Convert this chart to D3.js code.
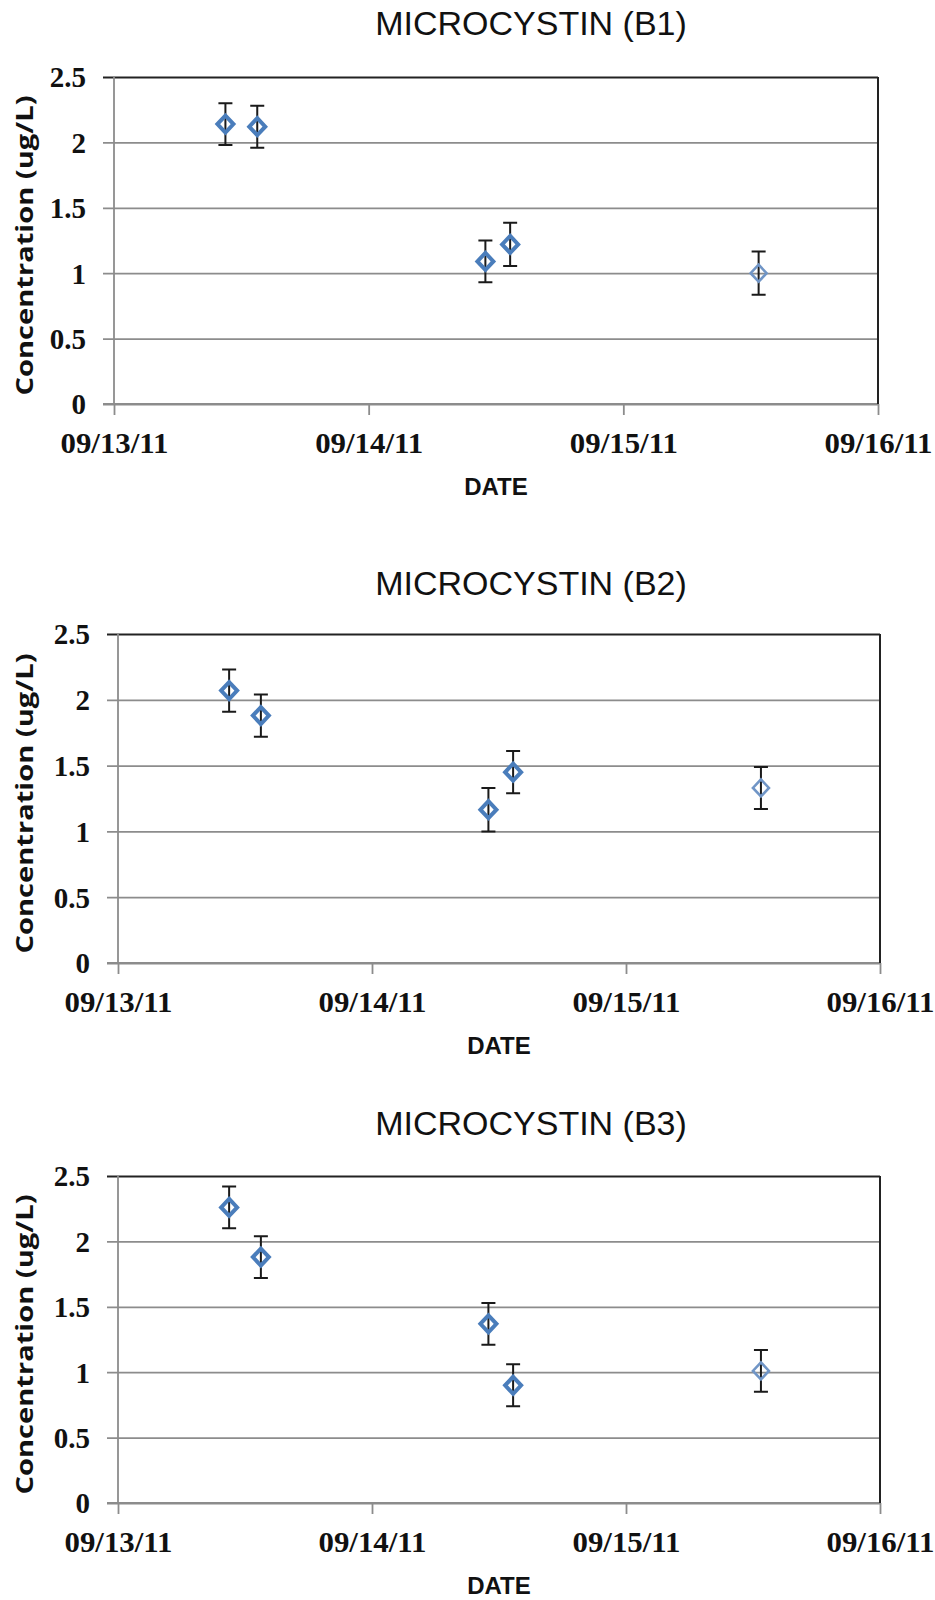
<!DOCTYPE html>
<html>
<head>
<meta charset="utf-8">
<script src="https://cdn.jsdelivr.net/npm/d3@7/dist/d3.min.js"></script>
<style>
  html, body { margin: 0; padding: 0; background: #fff; }
  svg { display: block; }
</style>
</head>
<body>
<svg id="chart" width="935" height="1600"></svg>
<script>
// ---------------- DATA ----------------
const sampleTimes = ["2011-09-13T10:30", "2011-09-13T13:30", "2011-09-14T11:00", "2011-09-14T13:20", "2011-09-15T12:45"];
const titles = ["MICROCYSTIN (B1)", "MICROCYSTIN (B2)", "MICROCYSTIN (B3)"];
const valuesB1 = [2.14, 2.12, 1.09, 1.22, 1.00];
const errorsB1 = [0.16, 0.16, 0.16, 0.165, 0.165];
const valuesB2 = [2.07, 1.88, 1.165, 1.45, 1.33];
const errorsB2 = [0.16, 0.16, 0.165, 0.16, 0.16];
const valuesB3 = [2.26, 1.88, 1.37, 0.90, 1.01];
const errorsB3 = [0.16, 0.16, 0.16, 0.16, 0.16];
const yTicks = [0, 0.5, 1, 1.5, 2, 2.5];
const xTickLabels = ["09/13/11", "09/14/11", "09/15/11", "09/16/11"];
const xAxisTitle = "DATE";
const yAxisTitle = "Concentration (ug/L)";

// ---------------- LAYOUT ----------------
const panels = [
  { left: 114, right: 878, top: 77,   bottom: 404,  titleY: 35 },
  { left: 118, right: 880, top: 634,  bottom: 963,  titleY: 595 },
  { left: 118, right: 880, top: 1176, bottom: 1503, titleY: 1135 }
];
const seriesValues = [valuesB1, valuesB2, valuesB3];
const seriesErrors = [errorsB1, errorsB2, errorsB3];

const parseT = d3.timeParse("%Y-%m-%dT%H:%M");
const parseTick = d3.timeParse("%m/%d/%y");
const dates = sampleTimes.map(parseT);
const tickDates = xTickLabels.map(parseTick);

const svg = d3.select("#chart");
const gridColor = "#8c8c8c";
const markerColor = "#4a7dbb";
const lightMarkerColor = "#7095c6";

panels.forEach((p, i) => {
  const x = d3.scaleTime().domain([tickDates[0], tickDates[tickDates.length - 1]]).range([p.left, p.right]);
  const y = d3.scaleLinear().domain([0, 2.5]).range([p.bottom, p.top]);
  const w = p.right - p.left;
  const g = svg.append("g");

  // Title
  g.append("text")
    .attr("x", 531).attr("y", p.titleY)
    .attr("text-anchor", "middle")
    .attr("font-family", "Liberation Sans, Arial, sans-serif")
    .attr("font-size", 34)
    .attr("fill", "#111")
    .text(titles[i]);

  // Y axis with gridlines
  const yAxis = d3.axisLeft(y)
    .tickValues(yTicks)
    .tickSizeInner(-w)
    .tickSizeOuter(0)
    .tickPadding(28)
    .tickFormat(d3.format("~g"));
  const yg = g.append("g").attr("transform", `translate(${p.left},0)`).call(yAxis);
  yg.select(".domain").remove();
  yg.selectAll(".tick line")
    .attr("x1", -11)
    .attr("stroke", d => d === 2.5 ? "#222" : gridColor)
    .attr("stroke-width", d => d === 2.5 ? 2 : 1.8);
  yg.selectAll(".tick text")
    .attr("font-family", "Liberation Serif, Times New Roman, serif")
    .attr("font-weight", "bold")
    .attr("font-size", 29)
    .attr("fill", "#111")
    .attr("dy", "0.34em");

  // X axis
  const xAxis = d3.axisBottom(x)
    .tickValues(tickDates)
    .tickSizeInner(11)
    .tickSizeOuter(0)
    .tickFormat(d3.timeFormat("%m/%d/%y"));
  const xg = g.append("g").attr("transform", `translate(0,${p.bottom})`).call(xAxis);
  xg.select(".domain").remove();
  xg.selectAll(".tick line").attr("stroke", gridColor).attr("stroke-width", 1.8);
  xg.selectAll(".tick text")
    .attr("y", 49).attr("dy", 0)
    .attr("font-family", "Liberation Serif, Times New Roman, serif")
    .attr("font-weight", "bold")
    .attr("font-size", 29)
    .attr("fill", "#111")
    .attr("textLength", 108)
    .attr("lengthAdjust", "spacingAndGlyphs");

  // Axis lines / borders
  g.append("line").attr("x1", p.left).attr("x2", p.left).attr("y1", p.top).attr("y2", p.bottom)
    .attr("stroke", gridColor).attr("stroke-width", 1.8);
  g.append("line").attr("x1", p.left - 11).attr("x2", p.right).attr("y1", p.bottom).attr("y2", p.bottom)
    .attr("stroke", gridColor).attr("stroke-width", 1.8);
  g.append("line").attr("x1", p.right).attr("x2", p.right).attr("y1", p.top).attr("y2", p.bottom)
    .attr("stroke", "#222").attr("stroke-width", 2);

  // Axis titles
  g.append("text")
    .attr("x", (p.left + p.right) / 2).attr("y", p.bottom + 91)
    .attr("text-anchor", "middle")
    .attr("font-family", "Liberation Sans, Arial, sans-serif")
    .attr("font-weight", "bold")
    .attr("font-size", 24)
    .attr("fill", "#111")
    .text(xAxisTitle);

  const yMid = (p.top + p.bottom) / 2 + 5;
  g.append("text")
    .attr("transform", `translate(33,${yMid}) rotate(-90)`)
    .attr("text-anchor", "middle")
    .attr("font-family", "Open Sans, Liberation Sans, sans-serif")
    .attr("font-weight", "bold")
    .attr("font-size", 24)
    .attr("textLength", 300)
    .attr("lengthAdjust", "spacingAndGlyphs")
    .attr("fill", "#111")
    .text(yAxisTitle);

  // Data
  const data = dates.map((d, k) => ({ t: d, v: seriesValues[i][k], e: seriesErrors[i][k], k }));

  // Error bars
  const eb = g.append("g").attr("stroke", "#1a1a1a").attr("stroke-width", 2).attr("fill", "none");
  eb.selectAll("path").data(data).join("path")
    .attr("d", d => {
      const cx = x(d.t), y1 = y(d.v + d.e), y0 = y(d.v - d.e);
      return `M${cx - 7},${y1}H${cx + 7}M${cx},${y1}V${y0}M${cx - 7},${y0}H${cx + 7}`;
    });

  // Diamond markers
  g.append("g").selectAll("path").data(data).join("path")
    .attr("d", d => {
      const cx = x(d.t), cy = y(d.v);
      return `M${cx},${cy - 8.5}L${cx + 8},${cy}L${cx},${cy + 8.5}L${cx - 8},${cy}Z`;
    })
    .attr("fill", "none")
    .attr("stroke", d => d.k === 4 ? lightMarkerColor : markerColor)
    .attr("stroke-width", d => d.k === 4 ? 2.6 : 4);
});
</script>
</body>
</html>
